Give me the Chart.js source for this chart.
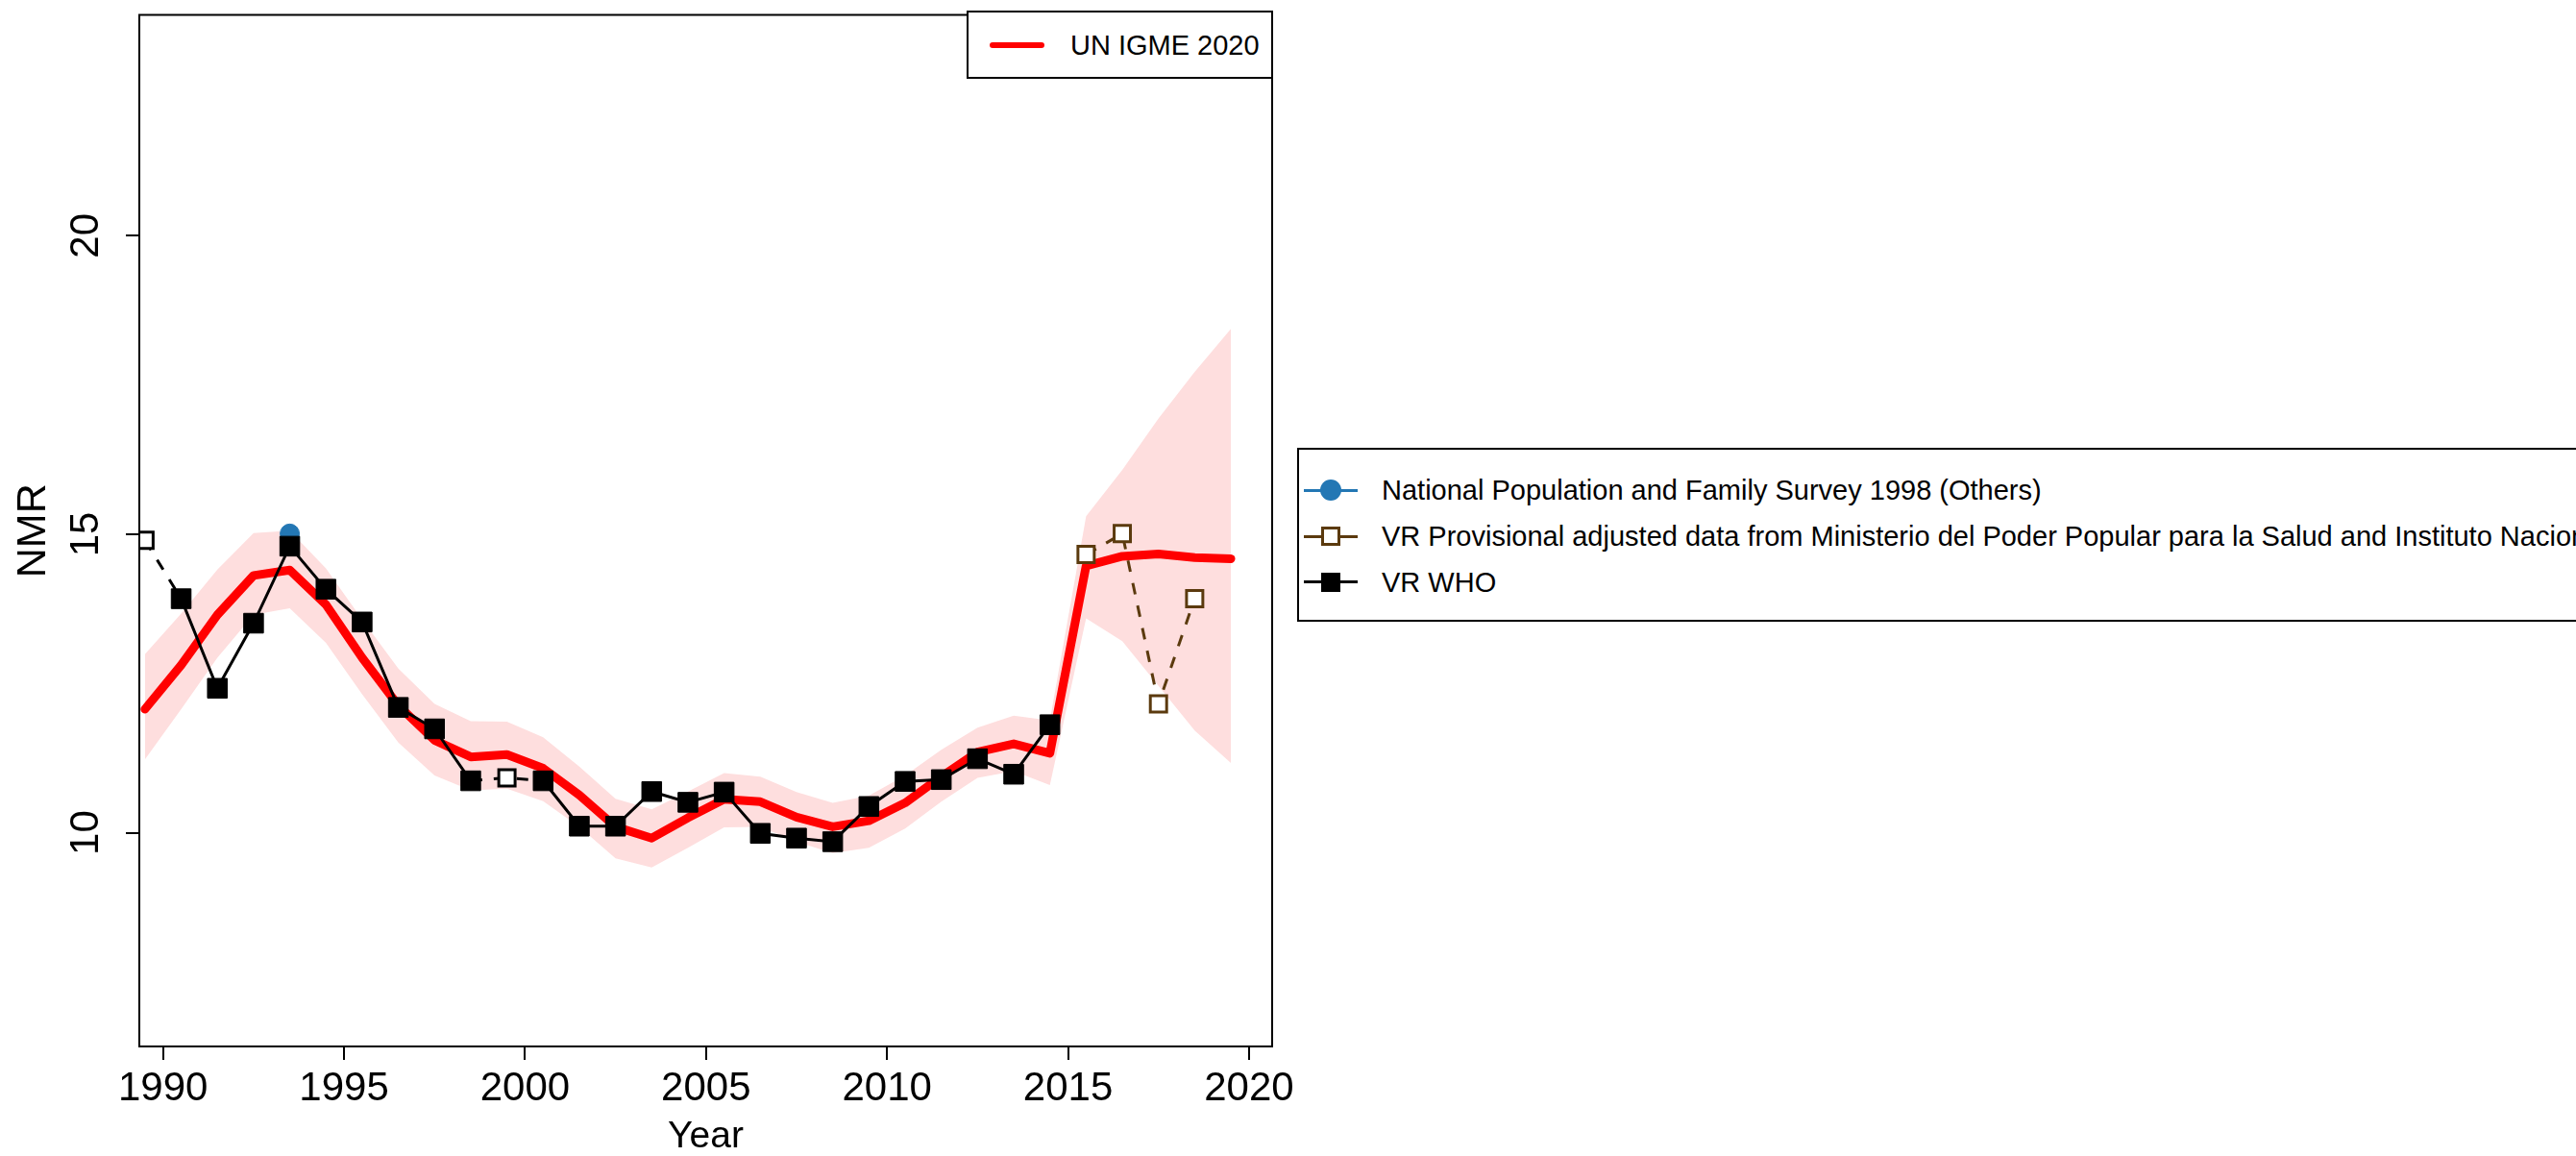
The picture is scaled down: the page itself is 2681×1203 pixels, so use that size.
<!DOCTYPE html>
<html>
<head>
<meta charset="utf-8">
<script src="https://cdn.jsdelivr.net/npm/chart.js@4/dist/chart.umd.min.js"></script>
<style>
html,body{margin:0;padding:0;width:2681px;height:1203px;overflow:hidden;background:#fff;font-family:"Liberation Sans",Arial,Helvetica,sans-serif;}
#wrap{position:relative;width:2681px;height:1203px;overflow:hidden;}
canvas{position:absolute;left:0;top:0;}
.box{position:absolute;border:2px solid #000;background:#fff;box-sizing:border-box;}
.lt{position:absolute;font-size:29px;line-height:34px;white-space:nowrap;color:#000;}
.ln{position:absolute;}
</style>
</head>
<body>
<div id="wrap">
  <canvas id="c" width="2681" height="1203"></canvas>

  <div class="box" style="left:1006px;top:11px;width:319px;height:71px;"></div>
  <div class="ln" style="left:1030px;top:44px;width:57px;height:6px;border-radius:3px;background:#FF0000;"></div>
  <div class="lt" style="left:1114px;top:30px;">UN IGME 2020</div>

  <div class="box" style="left:1350px;top:466px;width:1600px;height:181px;"></div>
  <div class="ln" style="left:1357px;top:509px;width:56px;height:3px;background:#2377B4;"></div>
  <div class="ln" style="left:1374px;top:499px;width:22px;height:22px;border-radius:50%;background:#2377B4;"></div>
  <div class="lt" id="lg1" style="left:1438px;top:493px;"></div>

  <div class="ln" style="left:1357px;top:557px;width:56px;height:3px;background:#5B3A0E;"></div>
  <div class="ln" style="left:1375px;top:548px;width:20px;height:20px;box-sizing:border-box;border:3px solid #5B3A0E;background:#fff;"></div>
  <div class="lt" id="lg2" style="left:1438px;top:541px;"></div>

  <div class="ln" style="left:1357px;top:604px;width:56px;height:3px;background:#000;"></div>
  <div class="ln" style="left:1375px;top:596px;width:20px;height:20px;background:#000;"></div>
  <div class="lt" id="lg3" style="left:1438px;top:589px;"></div>
</div>
<script>
// ---------- data ----------
const igmeYears = [1989.5,1990.5,1991.5,1992.5,1993.5,1994.5,1995.5,1996.5,1997.5,1998.5,1999.5,2000.5,2001.5,2002.5,2003.5,2004.5,2005.5,2006.5,2007.5,2008.5,2009.5,2010.5,2011.5,2012.5,2013.5,2014.5,2015.5,2016.5,2017.5,2018.5,2019.5];
const igmeValues = [12.07,12.81,13.65,14.31,14.40,13.82,12.93,12.13,11.55,11.27,11.31,11.08,10.63,10.10,9.91,10.25,10.56,10.52,10.26,10.10,10.20,10.50,10.94,11.35,11.49,11.33,14.47,14.63,14.67,14.61,14.59];
const igmeUpper = [12.99,13.67,14.41,15.02,15.06,14.43,13.57,12.75,12.16,11.87,11.86,11.60,11.11,10.57,10.39,10.69,11.00,10.94,10.68,10.50,10.62,10.96,11.39,11.76,11.96,11.88,15.30,16.08,16.94,17.72,18.44];
const igmeLower = [11.23,12.07,12.93,13.65,13.76,13.18,12.32,11.51,10.96,10.71,10.74,10.53,10.10,9.57,9.42,9.75,10.09,10.10,9.85,9.66,9.75,10.07,10.52,10.92,11.03,10.80,13.59,13.21,12.46,11.71,11.17];

const surveyYears = [1993.5];
const surveyValues = [15.01];

const provYears = [2015.5,2016.5,2017.5,2018.5];
const provValues = [14.66,15.01,12.16,13.92];

const whoYears = [1989.5,1990.5,1991.5,1992.5,1993.5,1994.5,1995.5,1996.5,1997.5,1998.5,1999.5,2000.5,2001.5,2002.5,2003.5,2004.5,2005.5,2006.5,2007.5,2008.5,2009.5,2010.5,2011.5,2012.5,2013.5,2014.5];
const whoValues = [14.90,13.92,12.42,13.51,14.80,14.08,13.53,12.10,11.74,10.87,10.92,10.87,10.11,10.11,10.69,10.51,10.68,9.99,9.91,9.85,10.44,10.86,10.89,11.24,10.98,11.81];
const whoExcluded = [true,false,false,false,false,false,false,false,false,false,true,false,false,false,false,false,false,false,false,false,false,false,false,false,false,false];

const xTicks = [1990,1995,2000,2005,2010,2015,2020];
const yTicks = [10,15,20];

const legendLabels = [
  'National Population and Family Survey 1998 (Others)',
  'VR Provisional adjusted data from Ministerio del Poder Popular para la Salud and Instituto Nacional de Estadística',
  'VR WHO'
];
// ---------------------------

document.getElementById('lg1').textContent = legendLabels[0];
document.getElementById('lg2').textContent = legendLabels[1];
document.getElementById('lg3').textContent = legendLabels[2];

const FAMILY = '"Liberation Sans", Arial, Helvetica, sans-serif';
const RED = '#FF0000', BAND = '#FEDEDE', BLUE = '#2377B4', BROWN = '#5B3A0E';
const pts = (xs, ys) => xs.map((x, i) => ({x: x, y: ys[i]}));

const framePlugin = {
  id: 'frame',
  afterDraw(chart) {
    const {ctx, chartArea: a} = chart;
    ctx.save();
    ctx.strokeStyle = '#000';
    ctx.lineWidth = 2;
    ctx.strokeRect(a.left, a.top, a.right - a.left, a.bottom - a.top);
    const ys = chart.scales.y;
    ctx.fillStyle = '#000';
    ctx.font = '42px ' + FAMILY;
    ctx.textAlign = 'center';
    ctx.textBaseline = 'alphabetic';
    yTicks.forEach(v => {
      const py = ys.getPixelForValue(v);
      ctx.save();
      ctx.translate(ys.right - 43, py);
      ctx.rotate(-Math.PI / 2);
      ctx.fillText(String(v), 0, 0);
      ctx.restore();
    });
    ctx.restore();
  }
};

new Chart(document.getElementById('c'), {
  type: 'line',
  data: {
    datasets: [
      {label: 'upper', data: pts(igmeYears, igmeUpper), borderColor: 'rgba(0,0,0,0)', borderWidth: 1,
       pointRadius: 0, fill: '+1', backgroundColor: BAND, order: 7, clip: 0},
      {label: 'lower', data: pts(igmeYears, igmeLower), borderColor: 'rgba(0,0,0,0)', borderWidth: 1,
       pointRadius: 0, fill: false, order: 6, clip: 0},
      {label: 'UN IGME 2020', data: pts(igmeYears, igmeValues), borderColor: RED, borderWidth: 9,
       borderCapStyle: 'round', borderJoinStyle: 'round', pointRadius: 0, fill: false, order: 5, clip: 0},
      {label: legendLabels[0], data: pts(surveyYears, surveyValues), showLine: false, pointStyle: 'circle',
       pointRadius: 10, pointBackgroundColor: BLUE, pointBorderColor: BLUE, pointBorderWidth: 1, order: 4, clip: 0},
      {label: legendLabels[1], data: pts(provYears, provValues), borderColor: BROWN, borderWidth: 3,
       borderDash: [12, 12], pointStyle: 'rect', pointRadius: 12, pointBorderWidth: 3,
       pointBackgroundColor: '#fff', pointBorderColor: BROWN, fill: false, order: 3, clip: 0},
      {label: legendLabels[2], data: pts(whoYears, whoValues), borderColor: '#000', borderWidth: 3,
       segment: {borderDash: c => (whoExcluded[c.p0DataIndex] || whoExcluded[c.p1DataIndex]) ? [12, 12] : undefined},
       pointStyle: 'rect',
       pointRadius: whoExcluded.map(e => e ? 12 : 14.5),
       pointBorderWidth: whoExcluded.map(e => e ? 3 : 1),
       pointBackgroundColor: whoExcluded.map(e => e ? '#fff' : '#000'),
       pointBorderColor: '#000', fill: false, order: 2, clip: 0}
    ]
  },
  options: {
    responsive: false,
    animation: false,
    devicePixelRatio: 1,
    layout: {padding: {left: 0, top: 12, right: 1357, bottom: 0}},
    plugins: {legend: {display: false}, tooltip: {enabled: false}},
    elements: {line: {tension: 0}},
    scales: {
      x: {
        type: 'linear', min: 1989.344, max: 2020.64,
        afterBuildTicks(s) { s.ticks = xTicks.map(v => ({value: v})); },
        afterFit(s) { s.height = 114; },
        grid: {drawOnChartArea: false, drawTicks: true, tickLength: 14, color: '#000', lineWidth: 2},
        border: {display: false},
        ticks: {autoSkip: false, maxRotation: 0, minRotation: 0, padding: 5, color: '#000',
                font: {family: FAMILY, size: 42, lineHeight: 1.2}, callback: v => String(v)},
        title: {display: true, text: 'Year', color: '#000', font: {family: FAMILY, size: 39, lineHeight: 1},
                padding: {top: 0, bottom: 0}}
      },
      y: {
        type: 'linear', min: 6.42, max: 23.70,
        afterBuildTicks(s) { s.ticks = yTicks.map(v => ({value: v})); },
        afterFit(s) { s.width = 145; },
        grid: {drawOnChartArea: false, drawTicks: true, tickLength: 14, color: '#000', lineWidth: 2},
        border: {display: false},
        ticks: {display: false},
        title: {display: true, text: 'NMR', color: '#000', font: {family: FAMILY, size: 43, lineHeight: 1},
                padding: {top: 14, bottom: 0}}
      }
    }
  },
  plugins: [framePlugin]
});
</script>
</body>
</html>
